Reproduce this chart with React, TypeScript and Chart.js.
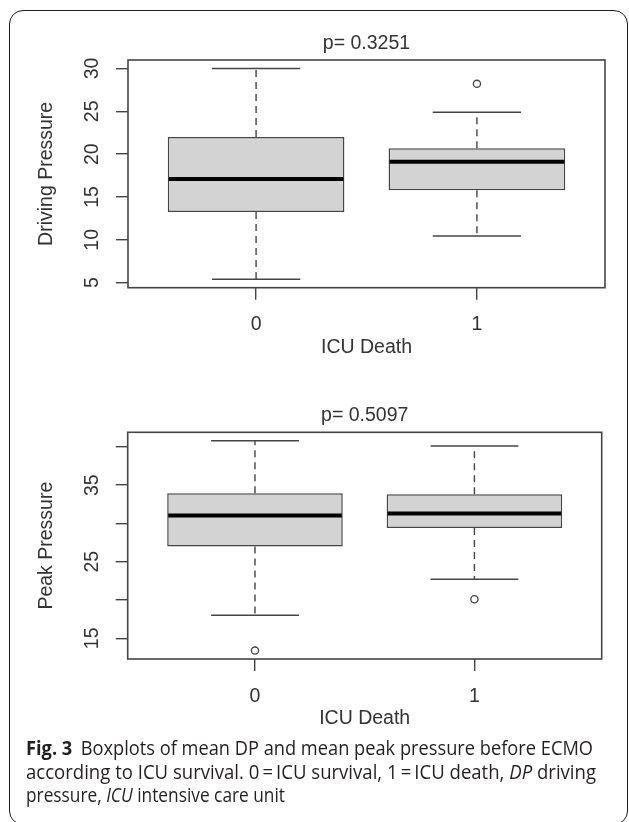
import React, { useEffect, useRef } from 'react';
import { Chart, registerables } from 'chart.js';

Chart.register(...registerables);

// ---- shared categories ----
const groupLabels = ['0', '1'];
const groupPositions = [1, 2];
const xAxisTitle = 'ICU Death';

// ---- Driving pressure ----
const dpTitle = 'p= 0.3251';
const dpAxisTitle = 'Driving Pressure';
const dpLower = [5.4, 10.45];
const dpQ1 = [13.25, 15.8];
const dpMedian = [17.1, 19.1];
const dpQ3 = [22.0, 20.7];
const dpUpper = [30.0, 24.9];
const dpOutliers0: number[] = [];
const dpOutliers1 = [28.2];
const dpTicks = [5, 10, 15, 20, 25, 30];
const dpTickLabels = ['5', '10', '15', '20', '25', '30'];

// ---- Peak pressure ----
const ppTitle = 'p= 0.5097';
const ppAxisTitle = 'Peak Pressure';
const ppLower = [18.0, 22.7];
const ppQ1 = [27.0, 29.4];
const ppMedian = [31.05, 31.3];
const ppQ3 = [33.95, 33.8];
const ppUpper = [40.8, 40.1];
const ppOutliers0 = [13.4];
const ppOutliers1 = [20.1];
const ppTicks = [15, 20, 25, 30, 35, 40];
const ppTickLabels = ['15', '', '25', '', '35', ''];

// ---- caption ----
const captionLabel = 'Fig. 3';
const captionLine1 = 'Boxplots of mean DP and mean peak pressure before ECMO';
const captionLine2a = 'according to ICU survival. 0\u2009=\u2009ICU survival, 1\u2009=\u2009ICU death, ';
const captionLine2b = 'DP';
const captionLine2c = ' driving';
const captionLine3a = 'pressure, ';
const captionLine3b = 'ICU';
const captionLine3c = ' intensive care unit';

const FONT = "'Liberation Sans', Arial, Helvetica, sans-serif";
const TEXT = '#333333';
const LINE = '#454545';

function rRange(vals: number[]) {
  const lo = Math.min(...vals);
  const hi = Math.max(...vals);
  const d = (hi - lo) * 0.04;
  return [lo - d, hi + d];
}

interface Spec {
  title: string;
  yTitle: string;
  lower: number[];
  q1: number[];
  median: number[];
  q3: number[];
  upper: number[];
  outliers: number[][];
  ticks: number[];
  tickLabels: string[];
  top: number;
  canvasH: number;
  yWidth: number;
  padRight: number;
  padBottom: number;
  titlePadTop: number;
  titlePadBottom: number;
}

function makeBoxPlugin(s: Spec) {
  return {
    id: 'boxWhiskers',
    afterDatasetsDraw(chart: any) {
      const { ctx, chartArea } = chart;
      const x = chart.scales.x;
      const y = chart.scales.y;
      ctx.save();
      groupPositions.forEach((pos, i) => {
        const xc = x.getPixelForValue(pos);
        const capL = x.getPixelForValue(pos - 0.2);
        const capR = x.getPixelForValue(pos + 0.2);
        const boxL = x.getPixelForValue(pos - 0.4);
        const boxR = x.getPixelForValue(pos + 0.4);
        ctx.strokeStyle = LINE;
        ctx.lineWidth = 1.4;
        ctx.setLineDash([7, 5]);
        ctx.beginPath();
        ctx.moveTo(xc, y.getPixelForValue(s.q3[i]));
        ctx.lineTo(xc, y.getPixelForValue(s.upper[i]));
        ctx.moveTo(xc, y.getPixelForValue(s.q1[i]));
        ctx.lineTo(xc, y.getPixelForValue(s.lower[i]));
        ctx.stroke();
        ctx.setLineDash([]);
        ctx.lineWidth = 1.5;
        ctx.beginPath();
        ctx.moveTo(capL, y.getPixelForValue(s.upper[i]));
        ctx.lineTo(capR, y.getPixelForValue(s.upper[i]));
        ctx.moveTo(capL, y.getPixelForValue(s.lower[i]));
        ctx.lineTo(capR, y.getPixelForValue(s.lower[i]));
        ctx.stroke();
        ctx.strokeStyle = '#000';
        ctx.lineWidth = 4;
        ctx.beginPath();
        ctx.moveTo(boxL + 1, y.getPixelForValue(s.median[i]));
        ctx.lineTo(boxR - 1, y.getPixelForValue(s.median[i]));
        ctx.stroke();
      });
      ctx.strokeStyle = LINE;
      ctx.lineWidth = 1.6;
      ctx.strokeRect(chartArea.left, chartArea.top, chartArea.right - chartArea.left, chartArea.bottom - chartArea.top);
      ctx.restore();
    },
  };
}

function buildConfig(s: Spec): any {
  const allVals = [...s.lower, ...s.upper, ...s.outliers.flat()];
  const [yMin, yMax] = rRange(allVals);
  const outlierPts: { x: number; y: number }[] = [];
  s.outliers.forEach((arr, i) => arr.forEach((v) => outlierPts.push({ x: groupPositions[i], y: v })));
  const font = { family: FONT, size: 19.5, weight: 'normal' as const };
  return {
    type: 'bar',
    data: {
      datasets: [
        {
          type: 'bar',
          data: groupPositions.map((p, i) => ({ x: p, y: [s.q1[i], s.q3[i]] })),
          backgroundColor: '#d3d3d3',
          borderColor: LINE,
          borderWidth: 1.5,
          borderSkipped: false,
          barPercentage: 0.8,
          categoryPercentage: 1.0,
        },
        {
          type: 'scatter',
          data: outlierPts,
          pointRadius: 3.6,
          pointBorderWidth: 1.3,
          pointBorderColor: LINE,
          pointBackgroundColor: '#ffffff',
          pointStyle: 'circle',
        },
      ],
    },
    options: {
      responsive: false,
      animation: false,
      devicePixelRatio: 1,
      layout: { padding: { top: 0, left: 0, right: s.padRight, bottom: s.padBottom } },
      plugins: {
        legend: { display: false },
        tooltip: { enabled: false },
        title: {
          display: true,
          text: s.title,
          fullSize: false,
          color: TEXT,
          font,
          padding: { top: s.titlePadTop, bottom: s.titlePadBottom },
        },
      },
      scales: {
        x: {
          type: 'linear',
          min: 0.42,
          max: 2.58,
          offset: false,
          afterBuildTicks: (sc: any) => {
            sc.ticks = groupPositions.map((v) => ({ value: v }));
          },
          afterFit: (sc: any) => {
            sc.height = 71.7;
          },
          ticks: {
            autoSkip: false,
            maxRotation: 0,
            padding: 13.6,
            color: TEXT,
            font,
            callback: (_v: any, i: number) => groupLabels[i],
          },
          grid: {
            offset: false,
            drawOnChartArea: false,
            drawTicks: true,
            tickLength: 12,
            color: LINE,
            tickColor: LINE,
            lineWidth: 1.4,
            tickWidth: 1.4,
          },
          border: { display: false },
          title: { display: true, text: xAxisTitle, color: TEXT, font, padding: 0 },
        },
        y: {
          type: 'linear',
          min: yMin,
          max: yMax,
          afterBuildTicks: (sc: any) => {
            sc.ticks = s.ticks.map((v) => ({ value: v }));
          },
          afterFit: (sc: any) => {
            sc.width = s.yWidth;
          },
          ticks: {
            autoSkip: false,
            minRotation: 90,
            maxRotation: 90,
            crossAlign: 'center',
            padding: 12.6,
            color: TEXT,
            font,
            callback: (_v: any, i: number) => s.tickLabels[i],
          },
          grid: {
            drawOnChartArea: false,
            drawTicks: true,
            tickLength: 12,
            color: LINE,
            tickColor: LINE,
            lineWidth: 1.4,
            tickWidth: 1.4,
          },
          border: { display: false },
          title: { display: true, text: s.yTitle, color: TEXT, font, padding: { top: 34.5, bottom: 0 } },
        },
      },
    },
    plugins: [makeBoxPlugin(s)],
  };
}

const dpSpec: Spec = {
  title: dpTitle,
  yTitle: dpAxisTitle,
  lower: dpLower,
  q1: dpQ1,
  median: dpMedian,
  q3: dpQ3,
  upper: dpUpper,
  outliers: [dpOutliers0, dpOutliers1],
  ticks: dpTicks,
  tickLabels: dpTickLabels,
  top: 0,
  canvasH: 380,
  yWidth: 128,
  padRight: 24,
  padBottom: 20.6,
  titlePadTop: 32.3,
  titlePadBottom: 4.3,
};

const ppSpec: Spec = {
  title: ppTitle,
  yTitle: ppAxisTitle,
  lower: ppLower,
  q1: ppQ1,
  median: ppMedian,
  q3: ppQ3,
  upper: ppUpper,
  outliers: [ppOutliers0, ppOutliers1],
  ticks: ppTicks,
  tickLabels: ppTickLabels,
  top: 380,
  canvasH: 360,
  yWidth: 127.7,
  padRight: 27.3,
  padBottom: 9.3,
  titlePadTop: 24.3,
  titlePadBottom: 4.6,
};

function BoxChart({ spec }: { spec: Spec }) {
  const ref = useRef<HTMLCanvasElement>(null);
  useEffect(() => {
    const chart = new Chart(ref.current as HTMLCanvasElement, buildConfig(spec));
    return () => chart.destroy();
  }, [spec]);
  return (
    <canvas
      ref={ref}
      width={629}
      height={spec.canvasH}
      style={{ position: 'absolute', left: 0, top: spec.top, width: 629, height: spec.canvasH }}
    />
  );
}

export default function App() {
  return (
    <div style={{ position: 'absolute', left: 0, top: 0, width: 629, height: 822, background: '#fff', overflow: 'hidden' }}>
      <div
        style={{
          position: 'absolute',
          left: 9,
          top: 10,
          width: 619,
          height: 815,
          boxSizing: 'border-box',
          border: '1.6px solid #1e1e1e',
          borderRadius: 14,
        }}
      />
      <BoxChart spec={dpSpec} />
      <BoxChart spec={ppSpec} />
      <svg width={629} height={822} style={{ position: 'absolute', left: 0, top: 0, pointerEvents: 'none' }}>
        <g fontFamily="'Open Sans', 'Noto Sans', sans-serif" fontSize={19.5} fill="#231f20">
          <text x={26} y={755} textLength={567} lengthAdjust="spacingAndGlyphs">
            <tspan fontWeight={700}>{captionLabel}</tspan>
            <tspan dx={9}>{captionLine1}</tspan>
          </text>
          <text x={26} y={778.5} textLength={570} lengthAdjust="spacingAndGlyphs" style={{ whiteSpace: 'pre' }}>
            <tspan>{captionLine2a}</tspan>
            <tspan fontStyle="italic">{captionLine2b}</tspan>
            <tspan>{captionLine2c}</tspan>
          </text>
          <text x={26} y={802} textLength={259} lengthAdjust="spacingAndGlyphs" style={{ whiteSpace: 'pre' }}>
            <tspan>{captionLine3a}</tspan>
            <tspan fontStyle="italic">{captionLine3b}</tspan>
            <tspan>{captionLine3c}</tspan>
          </text>
        </g>
      </svg>
    </div>
  );
}
